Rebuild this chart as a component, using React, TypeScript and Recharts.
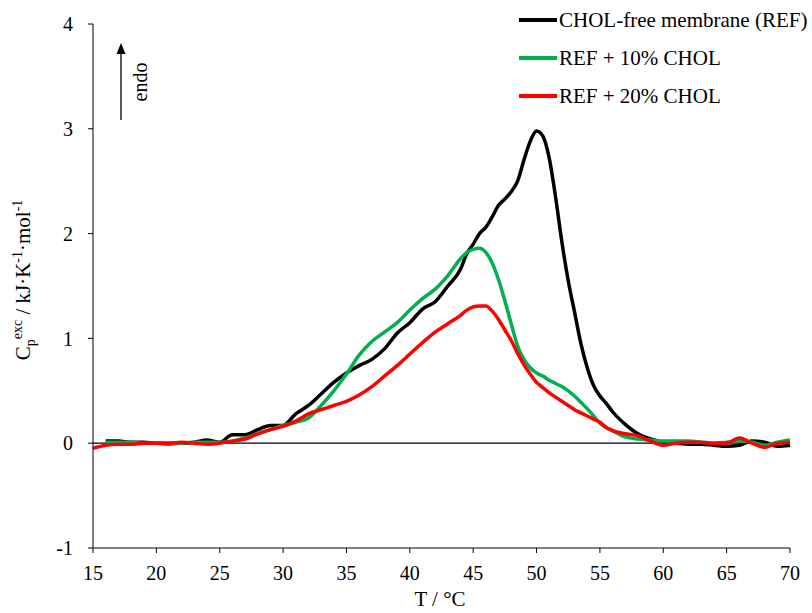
import {
  LineChart,
  Line,
  XAxis,
  YAxis,
  ReferenceLine,
} from 'recharts';

// temperature grid (°C)
const temps = [
  15, 16, 17, 18, 19, 20, 21, 22, 23, 24, 25, 26, 27, 28, 29, 30, 31, 32, 33, 34, 35,
  36, 37, 38, 39, 40, 41, 42, 43, 44, 44.5, 45, 45.5, 46, 46.5, 47, 47.5, 48, 48.5,
  49, 49.5, 50, 50.5, 51, 51.5, 52, 52.5, 53, 53.5, 54, 54.5, 55, 55.5, 56, 57, 58,
  59, 60, 61, 62, 63, 64, 65, 66, 67, 68, 69, 70,
];

// CHOL-free membrane (REF)
const refCp = [
  null, 0.02, 0.02, 0.01, 0.01, 0.0, 0.0, 0.0, 0.01, 0.03, 0.01, 0.08, 0.08, 0.13, 0.17,
  0.17, 0.28, 0.36, 0.47, 0.58, 0.67, 0.74, 0.8, 0.9, 1.05, 1.15, 1.28, 1.35, 1.5,
  1.66, 1.81, 1.9, 2.0, 2.06, 2.16, 2.27, 2.33, 2.4, 2.5, 2.7, 2.88, 2.98, 2.93, 2.72,
  2.35, 1.92, 1.55, 1.25, 0.95, 0.72, 0.55, 0.45, 0.38, 0.3, 0.18, 0.09, 0.04, 0.01,
  0.0, -0.01, -0.01, -0.02, -0.03, -0.02, 0.02, 0.01, -0.03, -0.02,
];

// REF + 10% CHOL
const chol10Cp = [
  null, 0.01, 0.01, 0.01, 0.0, 0.0, -0.01, 0.0, 0.01, 0.01, 0.01, 0.02, 0.05, 0.09, 0.13,
  0.17, 0.2, 0.24, 0.36, 0.5, 0.66, 0.84, 0.97, 1.06, 1.15, 1.27, 1.38, 1.47, 1.6,
  1.76, 1.82, 1.85, 1.86, 1.82, 1.72, 1.56, 1.36, 1.14, 0.93, 0.8, 0.72, 0.67, 0.64,
  0.6, 0.57, 0.54, 0.5, 0.45, 0.39, 0.33, 0.26, 0.19, 0.15, 0.12, 0.06, 0.04, 0.03,
  0.02, 0.02, 0.02, 0.01, 0.0, 0.01, 0.02, 0.01, -0.02, 0.01, 0.03,
];

// REF + 20% CHOL
const chol20Cp = [
  -0.05, -0.02, -0.01, -0.01, 0.0, 0.0, 0.0, 0.01, 0.0, -0.01, 0.0, 0.02, 0.04, 0.09,
  0.13, 0.16, 0.21, 0.28, 0.32, 0.36, 0.4, 0.46, 0.54, 0.64, 0.74, 0.85, 0.96, 1.06,
  1.14, 1.22, 1.27, 1.3, 1.31, 1.31, 1.26, 1.18, 1.08, 0.98, 0.86, 0.75, 0.66, 0.58,
  0.53, 0.48, 0.44, 0.4, 0.36, 0.32, 0.29, 0.26, 0.23, 0.2, 0.15, 0.12, 0.09, 0.07,
  0.02, -0.02, 0.0, 0.01, 0.01, 0.0, 0.0, 0.05, 0.0, -0.04, 0.0, 0.01,
];

const xTicks = [15, 20, 25, 30, 35, 40, 45, 50, 55, 60, 65, 70];
const yTicks = [-1, 0, 1, 2, 3, 4];

const series = [
  { key: 'ref', name: 'CHOL-free membrane (REF)', color: '#000000', values: refCp },
  { key: 'c10', name: 'REF + 10% CHOL', color: '#00B050', values: chol10Cp },
  { key: 'c20', name: 'REF + 20% CHOL', color: '#FF0000', values: chol20Cp },
];

const data = temps.map((T, i) => {
  const row: Record<string, number | null> = { T };
  series.forEach((s) => {
    row[s.key] = s.values[i];
  });
  return row;
});

const FONT = '"Liberation Serif", "Times New Roman", serif';
const W = 812;
const H = 613;

export default function App() {
  return (
    <div
      style={{
        position: 'absolute',
        left: 0,
        top: 0,
        width: W,
        height: H,
        background: '#fff',
        fontFamily: FONT,
      }}
    >
      <LineChart
        width={W}
        height={H}
        data={data}
        margin={{ top: 24, right: 22, bottom: 35, left: 0 }}
      >
        <XAxis
          dataKey="T"
          type="number"
          domain={[15, 70]}
          ticks={xTicks}
          interval={0}
          height={30}
          stroke="#000"
          tickSize={5}
          tickMargin={13}
          tick={{ fill: '#000', fontSize: 20, fontFamily: FONT }}
          tickLine={{ stroke: '#000' }}
        />
        <YAxis
          type="number"
          domain={[-1, 4]}
          ticks={yTicks}
          interval={0}
          width={93}
          stroke="#000"
          tickSize={5}
          tickMargin={15}
          tick={{ fill: '#000', fontSize: 20, fontFamily: FONT }}
          tickLine={{ stroke: '#000' }}
        />
        <ReferenceLine y={0} stroke="#000" strokeWidth={1.3} />
        {series.map((s) => (
          <Line
            key={s.key}
            dataKey={s.key}
            name={s.name}
            type="monotone"
            stroke={s.color}
            strokeWidth={3.5}
            dot={false}
            activeDot={false}
            isAnimationActive={false}
          />
        ))}
      </LineChart>

      {/* axis titles, endo arrow */}
      <svg
        width={W}
        height={H}
        style={{ position: 'absolute', left: 0, top: 0, pointerEvents: 'none' }}
        fontFamily={FONT}
      >
        <line x1={121} y1={120} x2={121} y2={53} stroke="#000" strokeWidth={1.3} />
        <path d="M116.5,54 L121,43 L125.5,54 Z" fill="#000" />
        <text
          transform="translate(147,82) rotate(-90)"
          textAnchor="middle"
          fontSize={20}
          fill="#000"
        >
          endo
        </text>
        <text x={440} y={606} textAnchor="middle" fontSize={21} fill="#000">
          T / °C
        </text>
        <text
          transform="translate(30,280) rotate(-90)"
          textAnchor="middle"
          fontSize={21}
          fill="#000"
        >
          C
          <tspan dy={5} fontSize={14}>p</tspan>
          <tspan dy={-13} fontSize={14}>exc</tspan>
          <tspan dy={8} fontSize={21}> / kJ·K</tspan>
          <tspan dy={-8} fontSize={14}>-1</tspan>
          <tspan dy={8} fontSize={21}>·mol</tspan>
          <tspan dy={-8} fontSize={14}>-1</tspan>
        </text>
      </svg>

      {/* legend */}
      <div style={{ position: 'absolute', left: 519, top: 1, pointerEvents: 'none' }}>
        {series.map((s) => (
          <div
            key={s.key}
            style={{ display: 'flex', alignItems: 'center', height: 38, whiteSpace: 'nowrap' }}
          >
            <span style={{ display: 'inline-block', width: 38, height: 4, background: s.color, marginRight: 2 }} />
            <span style={{ fontSize: 21, color: '#000', lineHeight: '24px' }}>{s.name}</span>
          </div>
        ))}
      </div>
    </div>
  );
}
